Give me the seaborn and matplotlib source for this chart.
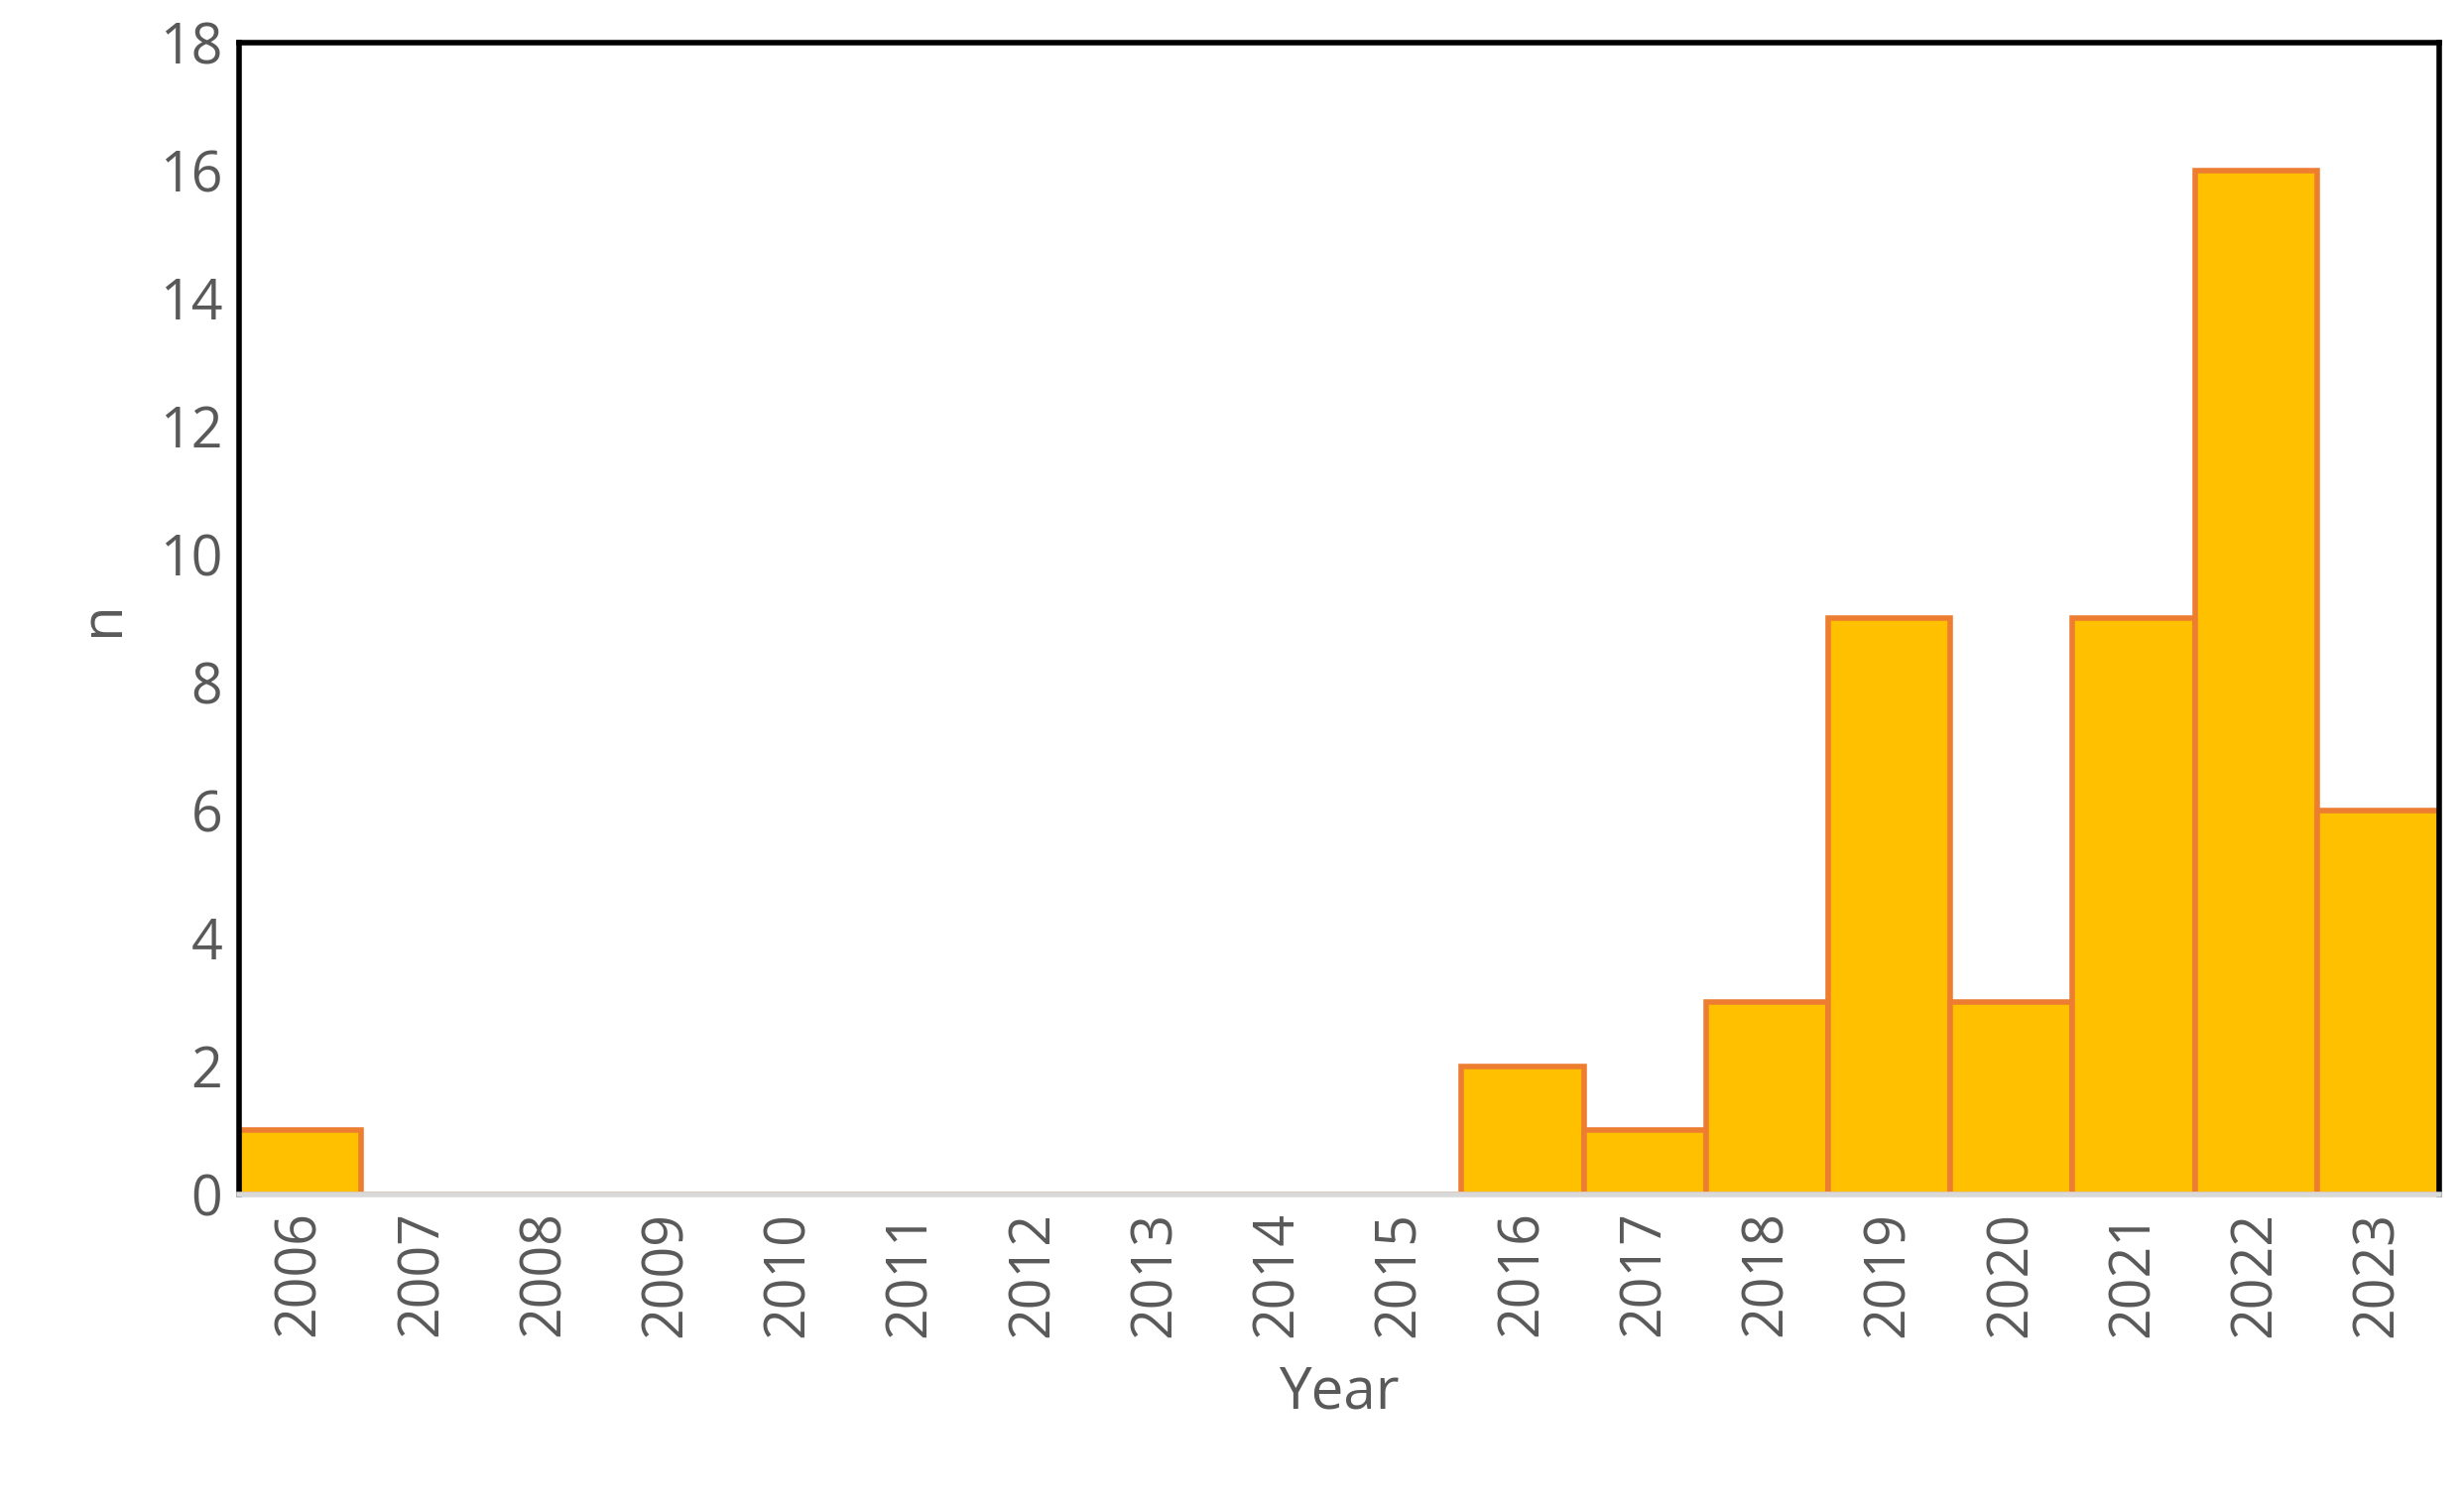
import seaborn as sns
import matplotlib.pyplot as plt
import pandas as pd

years = [str(y) for y in range(2006, 2024)]
counts = [1, 0, 0, 0, 0, 0, 0, 0, 0, 0, 2, 1, 3, 9, 3, 9, 16, 6]

df = pd.DataFrame({"Year": years, "n": counts})

sns.set_style("white")
plt.rcParams['font.family'] = ['Open Sans', 'DejaVu Sans']

fig = plt.figure(figsize=(24.84, 15.2), dpi=100)
ax = fig.add_axes([0.097, 0.208, 0.893, 0.764])
sns.barplot(data=df, x="Year", y="n", color="#FFC000", saturation=1,
            width=1.0, edgecolor="#ED7D31", linewidth=4, ax=ax)

ax.set_ylim(0, 18)
ax.set_xlim(-0.5, len(years) - 0.5)
ax.set_yticks(range(0, 19, 2))
ax.tick_params(axis='y', labelsize=40, labelcolor="#595959", length=0, pad=12)
ax.tick_params(axis='x', labelsize=40, labelcolor="#595959", length=0, pad=12, rotation=90)
ax.set_xlabel("Year", fontsize=42, color="#595959", labelpad=20)
ax.set_ylabel("n", fontsize=42, color="#595959", labelpad=20)

for side in ["left", "top", "right"]:
    ax.spines[side].set_color("black")
    ax.spines[side].set_linewidth(4)
ax.spines["bottom"].set_color("#D9D9D9")
ax.spines["bottom"].set_linewidth(4)

plt.savefig("out.png", dpi=100)
